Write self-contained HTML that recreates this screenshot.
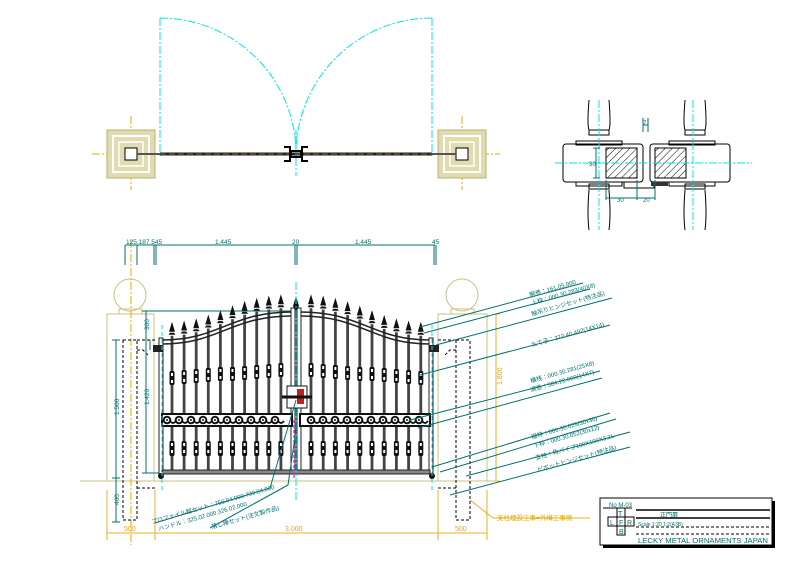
<!DOCTYPE html>
<html><head><meta charset="utf-8"><style>
html,body{margin:0;padding:0;background:#fff;}
svg{display:block;}
text{font-family:"Liberation Sans","Noto Sans CJK JP",sans-serif;}
</style></head><body>
<svg id="s" width="794" height="561" viewBox="0 0 794 561" xmlns="http://www.w3.org/2000/svg">
<rect width="794" height="561" fill="#fff"/>
<!-- ===== TOP PLAN ===== -->
<g fill="none" stroke="#00e5ee" stroke-width="1" stroke-dasharray="8 2 2 2">
 <line x1="160" y1="18" x2="160" y2="158"/>
 <line x1="432" y1="18" x2="432" y2="158"/>
 <path d="M160,18 A136,136 0 0 1 296,154"/>
 <path d="M432,18 A136,136 0 0 0 296,154"/>
 <line x1="296" y1="130" x2="296" y2="176"/>
</g>
<g stroke="#e8a800" stroke-width="1" stroke-dasharray="8 2 2 2">
 <line x1="92" y1="154" x2="170" y2="154"/><line x1="131" y1="116" x2="131" y2="190"/>
 <line x1="425" y1="154" x2="500" y2="154"/><line x1="462" y1="116" x2="462" y2="190"/>
</g>
<g fill="#e0dcb0" stroke="#b8b070" stroke-width="1">
 <rect x="107" y="130" width="48" height="48"/>
 <rect x="438" y="130" width="48" height="48"/>
</g>
<g fill="none" stroke="#fff" stroke-width="2">
 <rect x="113" y="136" width="36" height="36"/><rect x="444" y="136" width="36" height="36"/>
 <rect x="119" y="142" width="24" height="24" stroke-width="1.5"/><rect x="450" y="142" width="24" height="24" stroke-width="1.5"/>
</g>
<g fill="#fff" stroke="#000" stroke-width="1">
 <rect x="125" y="148" width="12" height="12"/><rect x="456" y="148" width="12" height="12"/>
</g>
<line x1="137" y1="154" x2="160" y2="154" stroke="#555" stroke-width="2"/>
<line x1="432" y1="154" x2="456" y2="154" stroke="#555" stroke-width="2"/>
<line x1="160" y1="154" x2="432" y2="154" stroke="#222" stroke-width="3"/>
<line x1="160" y1="154" x2="432" y2="154" stroke="#8a6a30" stroke-width="1" stroke-dasharray="6 3"/>
<g stroke="#000" stroke-width="2" fill="none">
 <path d="M284,147 h6 v14 h-6 M308,147 h-6 v14 h6"/>
 <rect x="291" y="151" width="10" height="6"/>
</g>
<!-- ===== RIGHT DETAIL ===== -->
<g fill="none" stroke="#000" stroke-width="1">
 <path d="M589,100 Q587,125 589,130 M609,100 Q611,125 609,130 M589,130 h20 v5 h-20z"/>
 <path d="M685,100 Q683,125 685,130 M705,100 Q707,125 705,130 M685,130 h20 v5 h-20z"/>
 <path d="M589,190 Q587,215 589,230 M609,190 Q611,215 609,230 M589,184 h20 v5 h-20z"/>
 <path d="M685,190 Q683,215 685,230 M705,190 Q707,215 705,230 M685,184 h20 v5 h-20z"/>
 <rect x="576" y="141" width="46" height="4"/><rect x="669" y="141" width="46" height="4"/>
 <rect x="576" y="182" width="46" height="4"/><rect x="669" y="182" width="46" height="4"/>
 <rect x="563" y="144" width="80" height="38" rx="3"/>
 <rect x="650" y="144" width="80" height="38" rx="3"/>
 <rect x="606" y="148" width="31" height="30" fill="url(#h)"/>
 <rect x="655" y="148" width="31" height="30" fill="url(#h)"/>
 <path d="M624,182 v6 h30 v-6"/>
</g>
<defs><pattern id="h" width="5" height="5" patternUnits="userSpaceOnUse" patternTransform="rotate(45)"><line x1="0" y1="0" x2="0" y2="5" stroke="#000" stroke-width="1"/></pattern></defs>
<rect x="651" y="182" width="17" height="4" fill="#333"/>
<g stroke="#00e5ee" stroke-width="1" stroke-dasharray="8 2 2 2">
 <line x1="555" y1="163" x2="752" y2="163"/>
 <line x1="599" y1="100" x2="599" y2="230"/><line x1="693" y1="100" x2="693" y2="230"/>
</g>
<g stroke="#007070" stroke-width="1" fill="none">
 <path d="M593,148 h7 M593,178 h7 M596,148 v30"/>
 <path d="M643,118 v14 M648,118 v14 M643,125 h5"/>
 <path d="M606,180 v20 M637,180 v20 M655,180 v20 M606,198 h49"/>
</g>
<g fill="#007070" font-size="6"><text x="589" y="166">30</text><text x="643" y="125">7</text><text x="617" y="202">30</text><text x="643" y="202">20</text></g>
<!-- ===== ELEVATION ===== -->
<g fill="none" stroke="#c8c080" stroke-width="1">
 <circle cx="130" cy="295" r="16"/><circle cx="462" cy="295" r="16"/>
 <rect x="119" y="309" width="23" height="5"/><rect x="451" y="309" width="23" height="5"/>
 <rect x="107" y="314" width="47" height="167"/><rect x="438" y="314" width="49" height="167"/>
 <line x1="80" y1="481" x2="500" y2="481"/>
</g>
<g stroke="#e8b020" stroke-width="1" fill="none">
 <line x1="155" y1="490" x2="155" y2="540"/><line x1="107" y1="490" x2="107" y2="540"/>
 <line x1="438" y1="490" x2="438" y2="540"/><line x1="487" y1="490" x2="487" y2="540"/>
 <line x1="107" y1="533" x2="487" y2="533"/>
 <path d="M500,314 h-4 v167 h4"/>
 <path d="M470,500 L493,518 H590"/>
</g>
<line x1="131" y1="240" x2="131" y2="545" stroke="#e8a800" stroke-dasharray="8 2 2 2"/>
<g fill="#e8a800" font-size="7"><text x="124" y="531">500</text><text x="285" y="531">3.000</text><text x="455" y="531">500</text>
<text x="497" y="520" font-size="6.5">支柱埋設工事=外構工事側</text>
<text x="502" y="385" transform="rotate(-90 502 385)">1.800</text></g>
<g fill="none" stroke="#000" stroke-width="1" stroke-dasharray="3 2">
 <rect x="123" y="340" width="14" height="180"/><rect x="456" y="340" width="14" height="180"/>
 <path d="M137,340 h18 M137,350 h6 l6,6 M137,488 h18 M456,340 h-18 M456,350 h-6 l-6,6 M456,488 h-18"/>
</g>
<g stroke="#007070" stroke-width="1" fill="none">
 <line x1="125" y1="245" x2="435" y2="245"/>
 <path d="M125,245 v20 M137,245 v20 M154,245 v20 M156,245 v20 M295,245 v20 M297,245 v20 M434,245 v20 M436,245 v20"/>
 <path d="M116,340 v182 M112,340 h8 M112,522 h8 M112,478 h8"/>
 <path d="M146,311 v162 M142,311 h20 M142,473 h20 M150,340 v10"/>
 <line x1="146" y1="311" x2="296" y2="311"/>
</g>
<g fill="#007070" font-size="6.5">
 <text x="126" y="244">125.187.545</text><text x="215" y="244">1.445</text><text x="292" y="244">20</text><text x="355" y="244">1.445</text><text x="432" y="244">45</text>
 <text x="119" y="415" transform="rotate(-90 119 415)">1.500</text>
 <text x="149" y="405" transform="rotate(-90 149 405)">1.420</text>
 <text x="119" y="505" transform="rotate(-90 119 505)">400</text>
 <text x="149" y="330" transform="rotate(-90 149 330)">300</text>
</g>
<g id="gate"></g>
<g stroke="#007070" stroke-width="1" fill="none">
 <path d="M420,327 L583,283"/><path d="M424,333 L590,289"/><path d="M436,345 L612,298"/>
 <path d="M420,375 L610,325"/><path d="M410,420 L600,371"/><path d="M418,428 L602,378"/>
 <path d="M432,467 L610,413"/><path d="M440,472 L616,419"/><path d="M466,476 L630,432"/><path d="M450,495 L630,447"/>
 <path d="M296,400 L270,488 L155,523"/><path d="M296,430 L288,485 L210,528"/>
</g>
<g fill="#007070" font-size="6">
 <g transform="rotate(-16 530 297)"><text x="530" y="297">胴巻：161.05.000</text></g>
 <g transform="rotate(-16 532 305)"><text x="532" y="305">上枠：000.30.283(40X8)</text></g>
 <g transform="rotate(-16 532 316)"><text x="532" y="316">触吊りヒンジセット(特注品)</text></g>
 <g transform="rotate(-16 532 347)"><text x="532" y="347">たて子：372.40.492(14X14)</text></g>
 <g transform="rotate(-16 531 383)"><text x="531" y="383">横桟：000.30.281(25X8)</text></g>
 <g transform="rotate(-16 531 392)"><text x="531" y="392">渦巻：584.20.060(14X7)</text></g>
 <g transform="rotate(-16 532 439)"><text x="532" y="439">縦枠：000.30.029(30x30)</text></g>
 <g transform="rotate(-16 534 448)"><text x="534" y="448">下枠：000.30.052(30x12)</text></g>
 <g transform="rotate(-16 536 460)"><text x="536" y="460">支柱：角パイプ100X100X3.2L</text></g>
 <g transform="rotate(-16 538 472)"><text x="538" y="472">ピボットヒンジセット(特注品)</text></g>
 <g transform="rotate(-16 152 524)"><text x="152" y="524">プロファイル錠セット：756.04.000.799.04.000</text></g>
 <g transform="rotate(-16 159 531)"><text x="159" y="531">ハンドル：325.02.000.326.02.000</text></g>
 <g transform="rotate(-16 212 529)"><text x="212" y="529">落し棒セット(注文製作品)</text></g>
</g>
<!-- title block -->
<rect x="603" y="501" width="172" height="47" fill="#000"/>
<rect x="600" y="498" width="172" height="47" fill="#fff" stroke="#000"/>
<g fill="none" stroke="#000" stroke-width="1">
 <rect x="617" y="508" width="8" height="9"/><rect x="608" y="517" width="9" height="9"/><rect x="617" y="517" width="8" height="9"/><rect x="625" y="517" width="9" height="9"/><rect x="617" y="526" width="8" height="9"/>
 <line x1="636" y1="510" x2="770" y2="510" stroke-width="1.5"/><line x1="636" y1="518" x2="770" y2="518" stroke-width="1.5"/>
 <line x1="636" y1="527" x2="770" y2="527" stroke-dasharray="3 2"/><line x1="636" y1="534" x2="770" y2="534" stroke-dasharray="3 2"/>
 <line x1="603" y1="508" x2="632" y2="508"/>
</g>
<g fill="#007070" font-size="7">
 <text x="609" y="507" font-size="6">No M-03</text>
 <text x="618" y="516">T</text><text x="610" y="525">L</text><text x="619" y="525">F</text><text x="627" y="525">R</text><text x="619" y="534">B</text>
 <text x="660" y="517" font-size="6">正門扉</text>
 <text x="638" y="526" font-size="5">Scale 1:20 1:2(A3B)</text>
 <text x="638" y="543" font-size="7" textLength="130" lengthAdjust="spacingAndGlyphs">LECKY METAL ORNAMENTS JAPAN</text>
</g>
</svg>
<script>
var g=document.getElementById('gate'),h='';
function cy(x){
 function bez(p0,p1,p2,p3,t){var u=1-t;return u*u*u*p0+3*u*u*t*p1+3*u*t*t*p2+t*t*t*p3;}
 var L=x<296,best=1e9,bt=0;
 for(var i=0;i<=100;i++){var t=i/100;var bx=L?bez(162,220,230,292,t):bez(300,362,372,430,t);var d=Math.abs(bx-x);if(d<best){best=d;bt=t;}}
 return L?bez(340,340,312,312,bt):bez(312,312,340,340,bt);
}
var xs=[];for(var i=0;i<10;i++)xs.push(172+12.1*i);for(i=0;i<10;i++)xs.push(311+12.2*i);
xs.forEach(function(x){var t=cy(x);
 h+='<line x1="'+x+'" y1="'+(t-4)+'" x2="'+x+'" y2="472" stroke="#444" stroke-width="2.8"/>';
 h+='<path d="M'+(x-3.5)+','+(t-5)+' h7 l-1.5,-2 h-4z M'+(x-3)+','+(t-8)+' L'+x+','+(t-18)+' L'+(x+3)+','+(t-8)+'z" fill="#111"/>';
 var k=(x<296?(x-172)/110:(421-x)/110);var u=Math.round(385-8*k);
 h+='<rect x="'+(x-2.5)+'" y="'+(u-14)+'" width="5" height="14" rx="1.5" fill="#111"/>';
 h+='<rect x="'+(x-1)+'" y="'+(u-12)+'" width="2" height="3" fill="#fff"/><rect x="'+(x-1)+'" y="'+(u-5)+'" width="2" height="3" fill="#fff"/>';
 h+='<rect x="'+(x-2.5)+'" y="441" width="5" height="15" rx="1.5" fill="#111"/>';
 h+='<rect x="'+(x-1)+'" y="443" width="2" height="3" fill="#fff"/><rect x="'+(x-1)+'" y="450" width="2" height="3" fill="#fff"/>';
});
h+='<path d="M162,340 C220,340 230,312 292,312 M162,344 C220,344 230,316 292,316" fill="none" stroke="#222" stroke-width="1.5"/>';
h+='<path d="M300,312 C362,312 372,340 430,340 M300,316 C362,316 372,344 430,344" fill="none" stroke="#222" stroke-width="1.5"/>';
h+='<rect x="159" y="338" width="4" height="136" fill="#fff" stroke="#222"/><rect x="429" y="338" width="4" height="136" fill="#fff" stroke="#222"/>';
h+='<rect x="291" y="308" width="4" height="166" fill="#fff" stroke="#222"/><rect x="297" y="308" width="4" height="166" fill="#fff" stroke="#222"/>';
h+='<rect x="162" y="470" width="268" height="4" fill="#888" stroke="#222"/>';
h+='<path d="M296,312 L293,306 L296,296 L299,306z" fill="#111"/>';
h+='<rect x="162" y="414" width="130" height="12" fill="#fff" stroke="#111" stroke-width="2"/><rect x="300" y="414" width="130" height="12" fill="#fff" stroke="#111" stroke-width="2"/>';
for(var sx=167;sx<426;sx+=12){if(sx>285&&sx<303)continue;h+='<circle cx="'+sx+'" cy="420" r="3.3" fill="none" stroke="#111" stroke-width="2"/><circle cx="'+sx+'" cy="420" r="1" fill="#111"/><path d="M'+(sx+3)+',421 q3,4 6,0" fill="none" stroke="#111" stroke-width="1.8"/>';}
h+='<rect x="153" y="345" width="10" height="7" fill="#222"/><rect x="429" y="345" width="10" height="7" fill="#222"/>';
h+='<circle cx="161" cy="476" r="3" fill="#111"/><circle cx="432" cy="476" r="3" fill="#111"/>';
h+='<line x1="162" y1="325" x2="162" y2="490" stroke="#00e5ee" stroke-dasharray="4 3"/><line x1="432" y1="325" x2="432" y2="490" stroke="#00e5ee" stroke-dasharray="4 3"/>';
h+='<line x1="296" y1="282" x2="296" y2="500" stroke="#00e5ee" stroke-dasharray="8 2 2 2"/>';
h+='<line x1="294" y1="420" x2="294" y2="480" stroke="#e040e0" stroke-width="1.5" stroke-dasharray="3 2"/>';
h+='<rect x="287" y="386" width="20" height="22" fill="#fff" stroke="#111"/><rect x="297" y="389" width="7" height="15" fill="#c02020"/>';
h+='<path d="M282,397 h30" stroke="#111" stroke-width="3"/>';
g.innerHTML=h;
</script>
</body></html>
